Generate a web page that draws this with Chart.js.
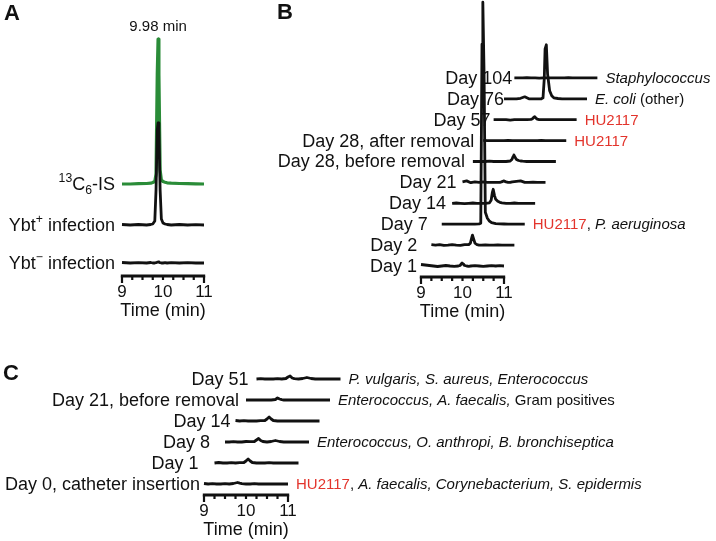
<!DOCTYPE html>
<html>
<head>
<meta charset="utf-8">
<script src="https://cdn.jsdelivr.net/npm/chart.js@4.4.1/dist/chart.umd.min.js"></script>
<style>
  body { margin: 0; background: #fff; }
  canvas { display: block; }
</style>
</head>
<body>
<canvas id="chroma" width="716" height="541"></canvas>
<script>
// ---------- data ----------

// panel A: standard and infections (time in min, signal in arbitrary units)
const timesA = [9.0, 9.2, 9.4, 9.6, 9.7, 9.75, 9.8, 9.83, 9.86, 9.88, 9.9, 9.93, 9.96, 10.0, 10.05, 10.1, 10.2, 10.4, 10.6, 10.8, 11.0];
const isStd  = [0, 0, 0.3, 0.5, 0.8, 1.5, 2.5, 10, 110, 145, 110, 14, 4, 2.5, 1.8, 1.2, 0.8, 0.5, 0.3, 0.2, 0];
const ybtPos = [0.5, 0, 0.5, 0, 0.5, 1, 4, 35, 95, 102, 95, 35, 6, 2, 1, 0.5, 0, 0.5, 0, 0.3, 0];
const ybtNeg = [0.5, 0, 0.3, 0, 0.5, 0, 0, 0.3, 0.8, 1, 0.8, 0.3, 0, 0, 0.3, 0, 0.3, 0, 0.3, 0, 0];

// panel B: patient with repeated samples
const timesB = [9.0, 9.1, 9.2, 9.3, 9.4, 9.5, 9.6, 9.7, 9.8, 9.9, 9.94, 9.97, 9.99, 10.02, 10.05, 10.1, 10.15, 10.2, 10.3, 10.4, 10.5, 10.6, 10.7, 10.8, 10.9, 11.0];
const day1B   = [1.5, 1, 0.5, 0, -0.5, 0, 0.5, 0, -0.3, 0, 0.5, 2, 3, 2, 0.5, 0, -0.3, 0, 0.3, 0, -0.3, 0, 0.3, 0, 0.3, 0];
const day2B   = [0.5, 0, 0.5, -0.3, 0, 0.5, 0, -0.3, 0.5, 0.5, 2, 7, 10, 6, 2, 0.5, 0, 0, 0.3, 0, 0, 0.3, 0, 0, 0, 0];
const day7B   = [0, 0, 0, 0, 0, 0, 0, 0, 0, 0.3, 1, 180, 222, 150, 12, 6, 3, 1.5, 0.5, 0.3, 0.2, 0, 0, 0, 0, 0];
const day14B  = [0, 0.3, 0, -0.3, 0, 0.3, 0, 0, 0, 0.5, 3, 11, 14, 8, 4, 2, 1, 0.5, 0, 0, 0.3, 0, 0, 0, 0, 0];
const day21B  = [0.5, 1.5, -0.3, 0.5, 0, 0.5, 0, 0, 0, 0, 0.5, 1, 1.5, 1, 0.5, 0, 0, 0.5, 1, 1.5, 0, 0, 0.3, 0, 0, 0];
const day28bB = [0, 0, 0, 0, 0.3, 0, 0, 0, 0, 0.5, 2, 5, 6.5, 4, 2, 1, 0.5, 0.3, 0, 0, 0, 0, 0, 0, 0, 0];
const day28aB = [0.3, 0, 0, 0, 0, 0, 0.3, 0, 0, 0, 0, 0, 0, 0, 0, 0, 0, 0, 0, 0.3, 0, 0, 0, 0, 0, 0];
const day57B  = [0, 0, 0, 0, -0.5, 0, 0, 0, 0, 0.3, 1, 2.5, 3, 1.5, 0.5, 0, 0, 0, 0, 0, 0, 0, 0, 0, 0, 0];
const day76B  = [0, 0, 0, 0, 0.5, 2, 0, 0, 0, 0, 1, 20, 50, 54, 25, 8, 3, 1, 0.3, 0, 0, 0, 0, 0, 0, 0];
const day104B = [0, 0, 0, 0.3, 0, 0, -0.3, 0, 0, 0, 0, 0, 0, 0, 0, 0, 0, 0, 0.3, 0, 0, 0, 0, 0, 0, 0];
const tracesB = [day1B, day2B, day7B, day14B, day21B, day28bB, day28aB, day57B, day76B, day104B];
const namesB = ['Day 1', 'Day 2', 'Day 7', 'Day 14', 'Day 21', 'Day 28, before removal',
                'Day 28, after removal', 'Day 57', 'Day 76', 'Day 104'];
const organismsB = [
  null, null,
  [['HU2117', 'red'], [', ', ''], ['P. aeruginosa', 'i']],
  null, null, null,
  [['HU2117', 'red']],
  [['HU2117', 'red']],
  [['E. coli', 'i'], [' (other)', '']],
  [['Staphylococcus', 'i']]
];

// panel C: second patient
const timesC = [9.0, 9.1, 9.2, 9.3, 9.4, 9.5, 9.6, 9.7, 9.75, 9.8, 9.85, 9.9, 10.0, 10.1, 10.2, 10.3, 10.4, 10.5, 10.6, 10.7, 10.8, 10.9, 11.0];
const day0C  = [0.5, 0, 0.3, 0, 0, 0.3, 0, 0.5, 1, 1.5, 0.8, 0.3, 0, 0, 0.3, 0, 0, 0, 0, 0, 0, 0, 0];
const day1C  = [0, 0.5, 0, 0, 0.3, 0, 0.3, 0.5, 2, 4, 2, 0.5, 0, 0, 0, 0.3, 0, 0, 0, 0, 0, 0, 0];
const day8C  = [0, 0, 0.3, 0, 0, 0.5, 0.3, 0.5, 2, 3.5, 1.5, 0.5, 0, 0.5, 1.5, 0.5, 0, 0, 0, 0, 0, 0, 0];
const day14C = [0.5, 0, 0.3, 0, 0, 0, 0.3, 0.5, 2, 4, 2, 0.5, 0, 0, 0, 0, 0, 0, 0, 0, 0, 0, 0];
const day21C = [0, 0, 0, 0, 0, 0, 0, 0.5, 2, 1, 0.3, 0, 0, 0, 0, 0, 0, 0, 0, 0, 0, 0, 0];
const day51C = [0, 0.3, 0, 0, 0, 0.3, 0, 0.5, 2, 3, 1, 0.3, 0, 0.5, 1.5, 0.5, 0, 0, 0, 0, 0, 0, 0];
const tracesC = [day0C, day1C, day8C, day14C, day21C, day51C];
const namesC = ['Day 0, catheter insertion', 'Day 1', 'Day 8', 'Day 14', 'Day 21, before removal', 'Day 51'];
const organismsC = [
  [['HU2117', 'red'], [', ', ''], ['A. faecalis,', 'i'], [' Corynebacterium, S. epidermis', 'i']],
  null,
  [['Enterococcus, O. anthropi, B. bronchiseptica', 'i']],
  null,
  [['Enterococcus, A. faecalis,', 'i'], [' Gram positives', '']],
  [['P. vulgaris, S. aureus, Enterococcus', 'i']]
];

const tickValues = [9, 10, 11];
const tickLabels = ['9', '10', '11'];

// ---------- layout ----------
const W = 716, H = 541;
const FONT = '"Liberation Sans", Arial, Helvetica, sans-serif';
const INK = '#111';
const RED = '#e3342c';
const GREEN = '#2a8c38';

const layout = {
  A: { x9: 122, x11: 204, base: 263, axisY: 276 },
  B: { x9: 421, x11: 504, base: 266, axisY: 277 },
  C: { x9: 204, x11: 288, base: 484, axisY: 495 }
};
const offsetsA = [0, 38, 79];          // Ybt-, Ybt+, 13C6-IS
const stepB = 20.9, shiftB = 0.25;
const stepC = 21, shiftC = 0.25;
const gapB = [4, 14, 14, 6, 6, 8, 9, 3, 0, 2];
const gapC = [4, 16, 15, 5, 7, 8];

function xScale(p) {
  const ppm = (p.x11 - p.x9) / 2;
  const min = 9 - p.x9 / ppm;
  return { type: 'linear', axis: 'x', display: false, min: min, max: min + W / ppm };
}
function yScale(p) {
  return { type: 'linear', axis: 'y', display: false, min: p.base - H, max: p.base };
}

function trace(times, vals, shift, offset, xID, yID, color, order) {
  return {
    data: times.map((t, i) => ({ x: t + shift, y: vals[i] + offset })),
    xAxisID: xID, yAxisID: yID,
    borderColor: color, borderWidth: color === GREEN ? 3.2 : 2.8,
    borderJoinStyle: 'round',
    pointRadius: 0, showLine: true, fill: false, tension: 0,
    order: order
  };
}

let datasets = [];
datasets.push(trace(timesA, ybtNeg, 0, offsetsA[0], 'xA', 'yA', INK, 0));
datasets.push(trace(timesA, ybtPos, 0, offsetsA[1], 'xA', 'yA', INK, 0));
datasets.push(trace(timesA, isStd, 0, offsetsA[2], 'xA', 'yA', GREEN, 1));
tracesB.forEach((vals, i) => {
  datasets.push(trace(timesB, vals, i * shiftB, i * stepB, 'xB', 'yB', INK, 0));
});
tracesC.forEach((vals, i) => {
  datasets.push(trace(timesC, vals, i * shiftC, i * stepC, 'xC', 'yC', INK, 0));
});

// ---------- text + axes ----------
function fontFor(style, size) {
  if (style === 'sup' || style === 'sub') return (size * 0.68) + 'px ' + FONT;
  if (style === 'i') return 'italic ' + size + 'px ' + FONT;
  if (style === 'b') return 'bold ' + size + 'px ' + FONT;
  return size + 'px ' + FONT;
}

function drawPieces(ctx, pieces, x, y, size, align) {
  let total = 0;
  pieces.forEach(p => { ctx.font = fontFor(p[1], size); total += ctx.measureText(p[0]).width; });
  let cx = x;
  if (align === 'right') cx = x - total;
  if (align === 'center') cx = x - total / 2;
  ctx.textAlign = 'left';
  ctx.textBaseline = 'middle';
  pieces.forEach(p => {
    ctx.font = fontFor(p[1], size);
    ctx.fillStyle = p[1] === 'red' ? RED : INK;
    let dy = p[1] === 'sup' ? -size * 0.38 : (p[1] === 'sub' ? size * 0.3 : 0);
    ctx.fillText(p[0], cx, y + dy);
    cx += ctx.measureText(p[0]).width;
  });
}

function drawAxis(ctx, chart, xID, y) {
  const sx = chart.scales[xID];
  const a = sx.getPixelForValue(9), b = sx.getPixelForValue(11);
  ctx.strokeStyle = INK;
  ctx.lineWidth = 3;
  ctx.beginPath();
  ctx.moveTo(a - 1.2, y);
  ctx.lineTo(b + 1.2, y);
  ctx.stroke();
  ctx.lineWidth = 2.2;
  for (let k = 0; k <= 8; k++) {
    const px = sx.getPixelForValue(9 + k * 0.25);
    const len = (k === 0 || k === 8) ? 7 : 4;
    ctx.beginPath();
    ctx.moveTo(px, y);
    ctx.lineTo(px, y + len);
    ctx.stroke();
  }
  tickValues.forEach((v, i) => {
    drawPieces(ctx, [[tickLabels[i], '']], sx.getPixelForValue(v), y + 16, 17, 'center');
  });
  drawPieces(ctx, [['Time (min)', '']], (a + b) / 2, y + 35, 18, 'center');
}

const textPlugin = {
  id: 'chromaText',
  beforeDatasetsDraw(chart) {
    const ctx = chart.ctx;
    const s = chart.scales;
    ctx.save();

    // panel letters
    drawPieces(ctx, [['A', 'b']], 4, 14, 22, 'left');
    drawPieces(ctx, [['B', 'b']], 277, 13, 22, 'left');
    drawPieces(ctx, [['C', 'b']], 3, 374, 22, 'left');

    // panel A
    const a9 = s.xA.getPixelForValue(9);
    drawPieces(ctx, [['Ybt', ''], ['\u2212', 'sup'], [' infection', '']], a9 - 7, s.yA.getPixelForValue(offsetsA[0]) + 1, 18, 'right');
    drawPieces(ctx, [['Ybt', ''], ['+', 'sup'], [' infection', '']], a9 - 7, s.yA.getPixelForValue(offsetsA[1]) + 1, 18, 'right');
    drawPieces(ctx, [['13', 'sup'], ['C', ''], ['6', 'sub'], ['-IS', '']], a9 - 7, s.yA.getPixelForValue(offsetsA[2]) + 1, 18, 'right');
    drawPieces(ctx, [['9.98 min', '']], s.xA.getPixelForValue(9.88), 27, 15, 'center');
    drawAxis(ctx, chart, 'xA', layout.A.axisY);

    // panel B
    namesB.forEach((name, i) => {
      const y = s.yB.getPixelForValue(i * stepB) + 1;
      drawPieces(ctx, [[name, '']], s.xB.getPixelForValue(9 + i * shiftB) - gapB[i], y, 18, 'right');
      if (organismsB[i]) drawPieces(ctx, organismsB[i], s.xB.getPixelForValue(11 + i * shiftB) + 8, y, 15, 'left');
    });
    drawAxis(ctx, chart, 'xB', layout.B.axisY);

    // panel C
    namesC.forEach((name, i) => {
      const y = s.yC.getPixelForValue(i * stepC) + 1;
      drawPieces(ctx, [[name, '']], s.xC.getPixelForValue(9 + i * shiftC) - gapC[i], y, 18, 'right');
      if (organismsC[i]) drawPieces(ctx, organismsC[i], s.xC.getPixelForValue(11 + i * shiftC) + 8, y, 15, 'left');
    });
    drawAxis(ctx, chart, 'xC', layout.C.axisY);

    ctx.restore();
  }
};

new Chart(document.getElementById('chroma'), {
  type: 'scatter',
  data: { datasets: datasets },
  options: {
    responsive: false,
    animation: false,
    events: [],
    layout: { padding: 0 },
    plugins: { legend: { display: false }, tooltip: { enabled: false } },
    scales: {
      xA: xScale(layout.A), yA: yScale(layout.A),
      xB: xScale(layout.B), yB: yScale(layout.B),
      xC: xScale(layout.C), yC: yScale(layout.C)
    }
  },
  plugins: [textPlugin]
});
</script>
</body>
</html>
